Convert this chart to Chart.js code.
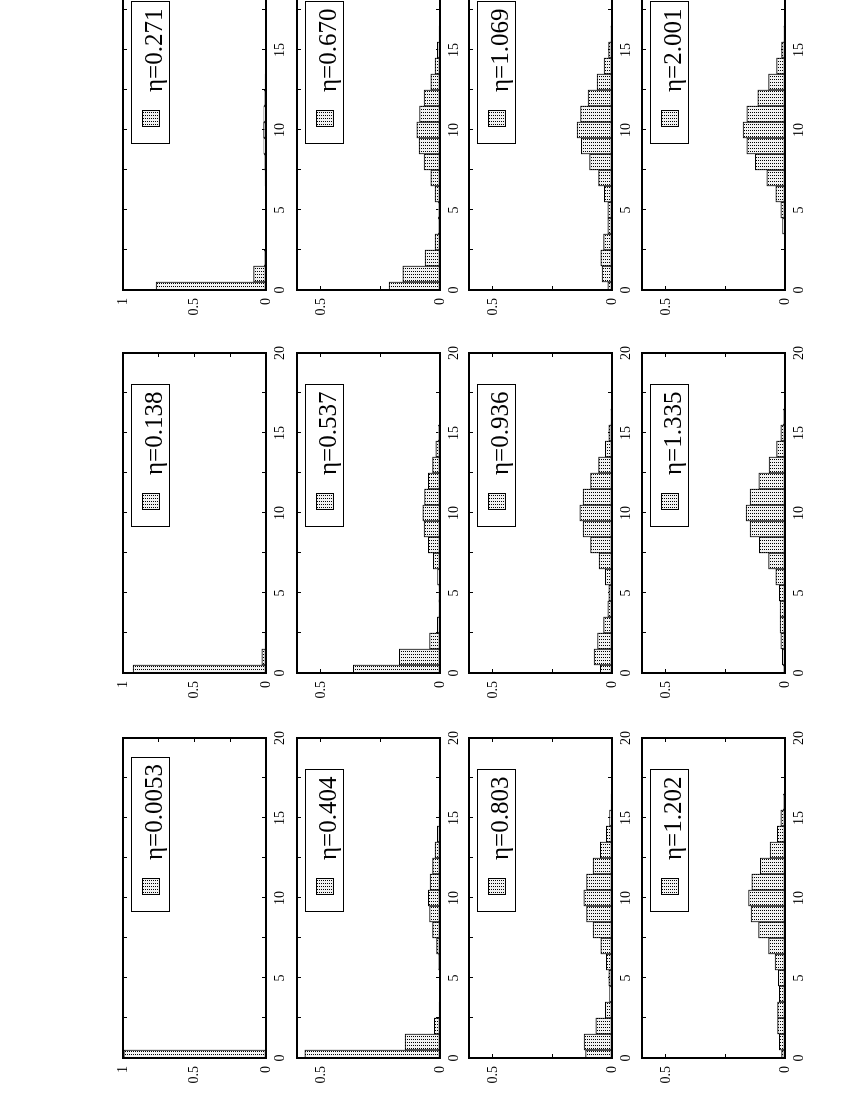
<!DOCTYPE html>
<html>
<head>
<meta charset="utf-8">
<script src="https://cdn.jsdelivr.net/npm/chart.js@4.4.1/dist/chart.umd.min.js"></script>
<style>
  html, body { margin: 0; padding: 0; background: #fff; width: 850px; height: 1100px; overflow: hidden; }
  /* the figure is a landscape page turned a quarter turn to the left */
  #page { position: absolute; left: 0; top: 0; width: 1200px; height: 850px;
          transform-origin: 0 0; transform: translate(0px, 1100px) rotate(-90deg); }
  #page canvas { position: absolute; }
</style>
</head>
<body>
<div id="page"></div>
<script>
// ---- data -----------------------------------------------------------
const bins = [0, 1, 2, 3, 4, 5, 6, 7, 8, 9, 10, 11, 12, 13, 14, 15, 16, 17, 18, 19, 20];
const xTickLabels = ['0', '5', '10', '15', '20'];
const yTickLabels = ['0', '0.5', '1'];
const etaLabels = ['η=0.0053', 'η=0.138', 'η=0.271',
                   'η=0.404', 'η=0.537', 'η=0.670',
                   'η=0.803', 'η=0.936', 'η=1.069',
                   'η=1.202', 'η=1.335', 'η=2.001'];

const p0053 = [0.995, 0.004, 0, 0, 0, 0, 0, 0, 0, 0, 0, 0, 0, 0, 0, 0, 0, 0, 0, 0, 0];
const p138  = [0.930, 0.030, 0.006, 0.002, 0.001, 0.001, 0.001, 0.002, 0.003, 0.004, 0.004, 0.004, 0.003, 0.002, 0.001, 0.001, 0, 0, 0, 0, 0];
const p271  = [0.768, 0.086, 0.012, 0.003, 0.002, 0.002, 0.004, 0.007, 0.012, 0.015, 0.017, 0.015, 0.012, 0.007, 0.004, 0.002, 0.001, 0, 0, 0, 0];
const p404  = [0.567, 0.146, 0.024, 0.004, 0.003, 0.003, 0.006, 0.014, 0.031, 0.044, 0.049, 0.042, 0.031, 0.021, 0.011, 0.004, 0.002, 0.001, 0, 0, 0];
const p537  = [0.364, 0.171, 0.044, 0.011, 0.005, 0.005, 0.010, 0.028, 0.049, 0.067, 0.072, 0.065, 0.049, 0.031, 0.017, 0.007, 0.003, 0.001, 0, 0, 0];
const p670  = [0.214, 0.156, 0.063, 0.021, 0.007, 0.007, 0.021, 0.039, 0.067, 0.088, 0.097, 0.086, 0.067, 0.038, 0.021, 0.011, 0.004, 0.002, 0, 0, 0];
const p803  = [0.111, 0.117, 0.068, 0.028, 0.010, 0.013, 0.024, 0.047, 0.079, 0.107, 0.118, 0.107, 0.079, 0.049, 0.024, 0.010, 0.004, 0.001, 0, 0, 0];
const p936  = [0.049, 0.075, 0.061, 0.035, 0.017, 0.013, 0.028, 0.054, 0.090, 0.121, 0.135, 0.121, 0.090, 0.056, 0.028, 0.013, 0.005, 0.002, 0, 0, 0];
const p1069 = [0.017, 0.042, 0.047, 0.035, 0.017, 0.017, 0.032, 0.056, 0.094, 0.129, 0.146, 0.132, 0.100, 0.063, 0.033, 0.014, 0.005, 0.002, 0, 0, 0];
const p1202 = [0.014, 0.024, 0.031, 0.031, 0.024, 0.028, 0.042, 0.069, 0.111, 0.142, 0.153, 0.139, 0.104, 0.063, 0.032, 0.018, 0.007, 0.002, 0, 0, 0];
const p1335 = [0.007, 0.011, 0.018, 0.021, 0.021, 0.024, 0.039, 0.069, 0.108, 0.146, 0.163, 0.146, 0.110, 0.067, 0.035, 0.017, 0.007, 0.002, 0, 0, 0];
const p2001 = [0.001, 0.002, 0.002, 0.003, 0.010, 0.018, 0.039, 0.076, 0.125, 0.160, 0.176, 0.160, 0.114, 0.069, 0.035, 0.014, 0.005, 0.002, 0, 0, 0];

const panels = [p0053, p138, p271, p404, p537, p670, p803, p936, p1069, p1202, p1335, p2001];
const yMax = [1, 0.6, 0.6, 0.6];   // per row

// ---- layout (page coordinates before the turn) ----------------------
const colLeft = [42, 427, 810];
const rowTop = [123, 297, 469, 642];
const plotW = 320, plotH = 143;
const axisW = 30, axisH = 25, padTop = 8, padRight = 12;

Chart.defaults.font.family = '"Liberation Serif", "DejaVu Serif", serif';
Chart.defaults.font.size = 14;
Chart.defaults.color = '#000';

function dotPattern(ctx) {
  const c = document.createElement('canvas');
  c.width = 3; c.height = 2;
  const g = c.getContext('2d');
  g.fillStyle = '#f2f2f2';
  g.fillRect(0, 0, 3, 2);
  g.fillStyle = '#000';
  g.fillRect(0, 0, 1, 1);
  return ctx.createPattern(c, 'repeat');
}

// boxed key with sample and label, drawn like the gnuplot key
const etaKey = {
  id: 'etaKey',
  afterDraw(chart, args, opts) {
    const { ctx, chartArea: a } = chart;
    ctx.save();
    ctx.font = '25px "Liberation Serif", serif';
    const tx = a.left + 198;
    const tw = ctx.measureText(opts.text).width;
    const bx = a.left + 146.5, by = a.top + 8.5, bh = 38;
    const bw = Math.round(tx + tw + 7 - bx);
    ctx.fillStyle = '#fff';
    ctx.fillRect(bx, by, bw, bh);
    ctx.strokeStyle = '#000';
    ctx.lineWidth = 1;
    ctx.strokeRect(bx, by, bw, bh);
    ctx.fillStyle = opts.pattern;
    ctx.fillRect(a.left + 163.5, a.top + 19.5, 16, 17);
    ctx.strokeRect(a.left + 163.5, a.top + 19.5, 16, 17);
    ctx.fillStyle = '#000';
    ctx.textBaseline = 'alphabetic';
    ctx.fillText(opts.text, tx, a.top + 38.5);
    ctx.restore();
  }
};

function tickGrid() {
  return { display: true, drawOnChartArea: false, drawTicks: true, tickLength: -4,
           color: '#000', lineWidth: 1, offset: false };
}
const frame = { display: true, color: '#000', width: 2, z: 1 };

// fixed axis sizes, and no extra room asked for by the edge labels
function fixX(h) {
  return s => { s.height = h; s.paddingLeft = 0; s.paddingRight = 0; };
}
function fixY(w) {
  return s => { s.width = w; s.paddingTop = 0; s.paddingBottom = 0; };
}

const page = document.getElementById('page');

panels.forEach((values, i) => {
  const row = Math.floor(i / 3), col = i % 3;
  const canvas = document.createElement('canvas');
  canvas.width = axisW + plotW + padRight;
  canvas.height = padTop + plotH + axisH;
  canvas.style.left = (colLeft[col] - axisW) + 'px';
  canvas.style.top = (rowTop[row] - padTop) + 'px';
  page.appendChild(canvas);
  const ctx = canvas.getContext('2d');
  const pattern = dotPattern(ctx);

  new Chart(ctx, {
    type: 'bar',
    data: {
      labels: bins,
      datasets: [{
        data: values,
        backgroundColor: pattern,
        borderColor: '#000',
        borderWidth: 1,
        borderSkipped: false,
        barPercentage: 1,
        categoryPercentage: 1
      }]
    },
    options: {
      responsive: false,
      animation: false,
      events: [],
      layout: { padding: { top: padTop, right: padRight, left: 0, bottom: 0 } },
      scales: {
        x: {
          type: 'linear', position: 'bottom', min: 0, max: 20, offset: false,
          afterFit: fixX(axisH),
          ticks: {
            stepSize: 2.5, autoSkip: false, maxRotation: 0, minRotation: 0, padding: 10,
            callback: v => xTickLabels.includes(String(v)) ? String(v) : ''
          },
          grid: tickGrid(),
          border: frame
        },
        x2: {
          axis: 'x', type: 'linear', position: 'top', min: 0, max: 20, offset: false,
          afterFit: fixX(0),
          ticks: { stepSize: 2.5, display: false },
          grid: tickGrid(),
          border: frame
        },
        y: {
          type: 'linear', position: 'left', min: 0, max: yMax[row],
          afterFit: fixY(axisW),
          ticks: {
            stepSize: 0.25, padding: 12, includeBounds: false,
            callback: v => yTickLabels.includes(String(v)) ? String(v) : ''
          },
          grid: tickGrid(),
          border: frame
        },
        y2: {
          axis: 'y', type: 'linear', position: 'right', min: 0, max: yMax[row],
          afterFit: fixY(0),
          ticks: { stepSize: 0.25, display: false, includeBounds: false },
          grid: tickGrid(),
          border: frame
        }
      },
      plugins: {
        legend: { display: false },
        tooltip: { enabled: false },
        etaKey: { text: etaLabels[i], pattern: pattern }
      }
    },
    plugins: [etaKey]
  });
});
</script>
</body>
</html>
